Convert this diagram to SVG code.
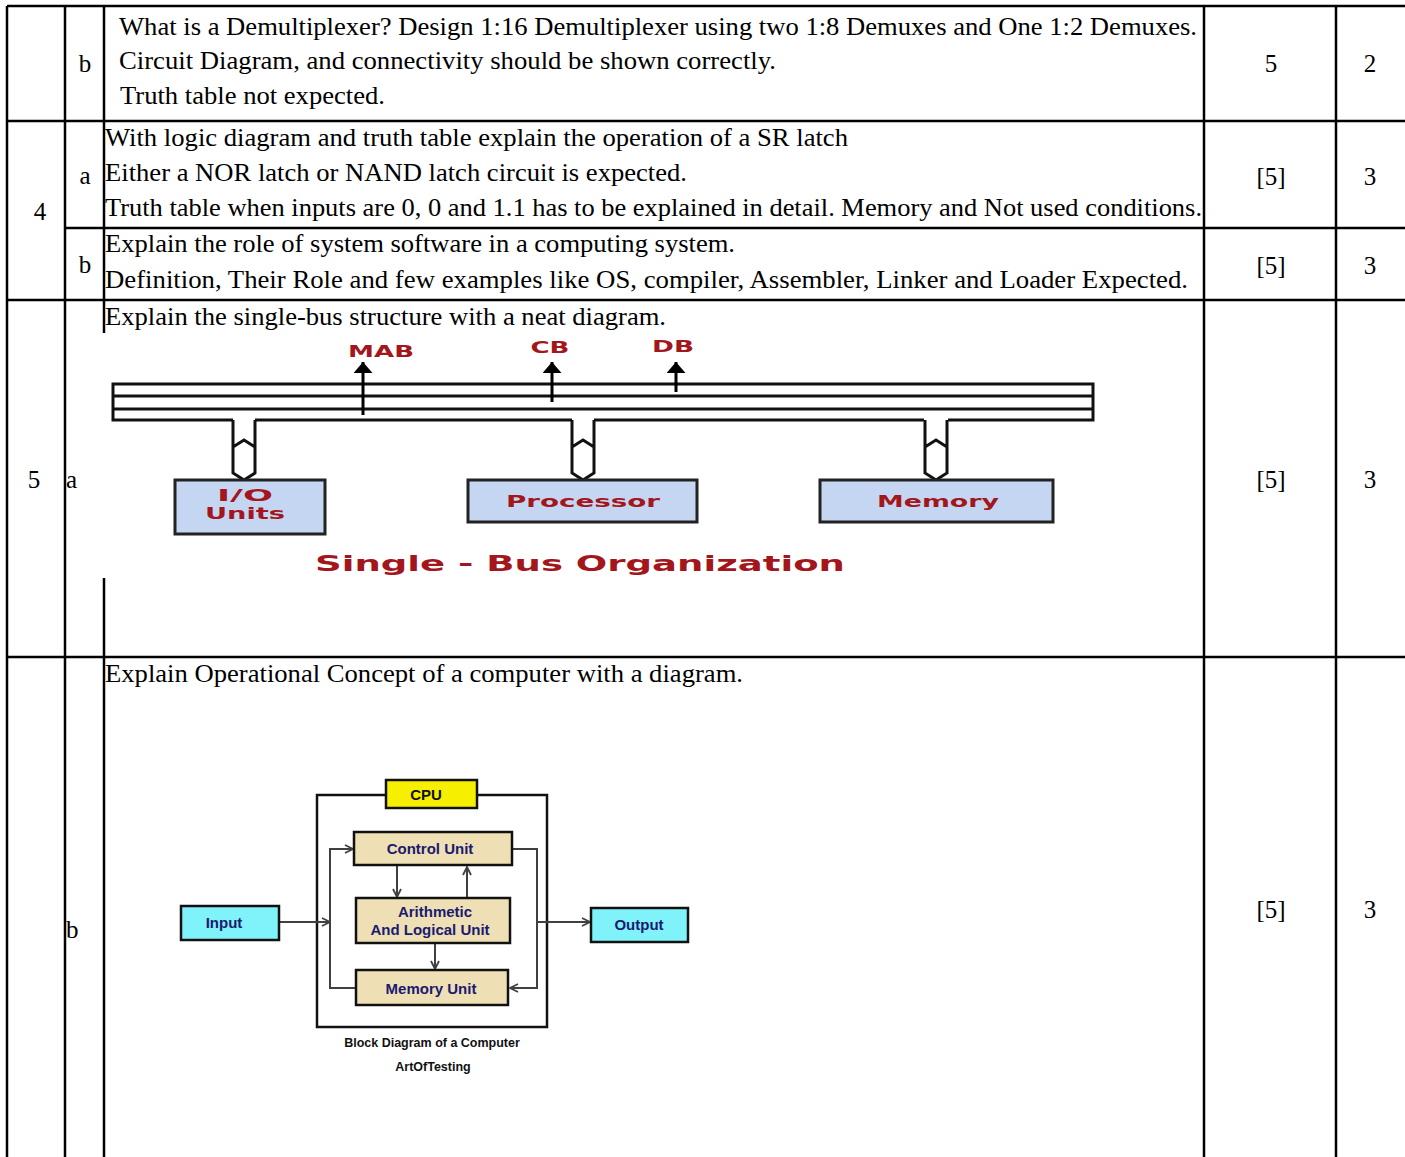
<svg xmlns="http://www.w3.org/2000/svg" width="1405" height="1157" viewBox="0 0 1405 1157">
<style>
.g{stroke:#000;stroke-width:2.5;fill:none}
.t{font-family:"Liberation Serif","Times New Roman",serif;font-size:25px;fill:#000}
.c{text-anchor:middle}
.bus{stroke:#111;stroke-width:3;fill:none}
.bl{font-family:"DejaVu Sans",Verdana,sans-serif;font-weight:bold;fill:#a3161c}
.ub{fill:#c5d6f3;stroke:#222;stroke-width:3}
.bd{font-family:"Liberation Sans",Arial,sans-serif;font-weight:bold}
.tan{fill:#eee0b4;stroke:#111;stroke-width:2.5}
.cy{fill:#7ff2fa;stroke:#111;stroke-width:2.5}
.ar{stroke:#404040;stroke-width:2;fill:none}
.nv{fill:#1a1a70;font-size:15px;text-anchor:middle}
</style>
<defs>
<marker id="oa" viewBox="0 0 10 10" refX="9" refY="5" markerWidth="10" markerHeight="10" markerUnits="userSpaceOnUse" orient="auto">
<path d="M1,1 L9,5 L1,9" fill="none" stroke="#404040" stroke-width="1.8"/>
</marker>
<marker id="fa" viewBox="0 0 10 10" refX="10" refY="5" markerWidth="11" markerHeight="19" markerUnits="userSpaceOnUse" orient="auto" preserveAspectRatio="none">
<path d="M0,0 L10,5 L0,10 Z" fill="#000"/>
</marker>
</defs>
<rect width="1405" height="1157" fill="#fff"/>
<g id="grid">
<line class="g" x1="7" y1="6" x2="1405" y2="6"/>
<line class="g" x1="7" y1="121" x2="1405" y2="121"/>
<line class="g" x1="65" y1="228" x2="1405" y2="228"/>
<line class="g" x1="7" y1="300" x2="1405" y2="300"/>
<line class="g" x1="7" y1="657" x2="1405" y2="657"/>
<line class="g" x1="7" y1="6" x2="7" y2="1157"/>
<line class="g" x1="65" y1="6" x2="65" y2="1157"/>
<line class="g" x1="104" y1="6" x2="104" y2="333"/>
<line class="g" x1="104" y1="578" x2="104" y2="1157"/>
<line class="g" x1="1204" y1="6" x2="1204" y2="1157"/>
<line class="g" x1="1336" y1="6" x2="1336" y2="1157"/>
</g>
<g id="cells">
<text class="t c" x="85" y="72">b</text>
<text class="t" x="119" y="35" textLength="1078" lengthAdjust="spacingAndGlyphs">What is a Demultiplexer? Design 1:16 Demultiplexer using two 1:8 Demuxes and One 1:2 Demuxes.</text>
<text class="t" x="119" y="69" textLength="657" lengthAdjust="spacingAndGlyphs">Circuit Diagram, and connectivity should be shown correctly.</text>
<text class="t" x="120" y="104" textLength="265" lengthAdjust="spacingAndGlyphs">Truth table not expected.</text>
<text class="t c" x="1271" y="72">5</text>
<text class="t c" x="1370" y="72">2</text>

<text class="t c" x="40" y="220">4</text>
<text class="t c" x="85" y="184">a</text>
<text class="t" x="105" y="146" textLength="743" lengthAdjust="spacingAndGlyphs">With logic diagram and truth table explain the operation of a SR latch</text>
<text class="t" x="105" y="181" textLength="582" lengthAdjust="spacingAndGlyphs">Either a NOR latch or NAND latch circuit is expected.</text>
<text class="t" x="105" y="216" textLength="1097" lengthAdjust="spacingAndGlyphs">Truth table when inputs are 0, 0 and 1.1 has to be explained in detail. Memory and Not used conditions.</text>
<text class="t c" x="1271" y="185">[5]</text>
<text class="t c" x="1370" y="185">3</text>

<text class="t c" x="85" y="273">b</text>
<text class="t" x="105" y="252" textLength="630" lengthAdjust="spacingAndGlyphs">Explain the role of system software in a computing system.</text>
<text class="t" x="105" y="288" textLength="1083" lengthAdjust="spacingAndGlyphs">Definition, Their Role and few examples like OS, compiler, Assembler, Linker and Loader Expected.</text>
<text class="t c" x="1271" y="274">[5]</text>
<text class="t c" x="1370" y="274">3</text>

<text class="t c" x="34" y="488">5</text>
<text class="t" x="66" y="488">a</text>
<text class="t" x="105" y="325" textLength="561" lengthAdjust="spacingAndGlyphs">Explain the single-bus structure with a neat diagram.</text>
<text class="t c" x="1271" y="488">[5]</text>
<text class="t c" x="1370" y="488">3</text>

<text class="t" x="66" y="938">b</text>
<text class="t" x="105" y="682" textLength="638" lengthAdjust="spacingAndGlyphs">Explain Operational Concept of a computer with a diagram.</text>
<text class="t c" x="1271" y="918">[5]</text>
<text class="t c" x="1370" y="918">3</text>
</g>

<g id="bus-diagram">
<g id="bus">
<path class="bus" d="M233,420 H113 V384 H1093 V420 H948 M924,420 H594 M572,420 H255"/>
<line class="bus" x1="113" y1="396" x2="1093" y2="396"/>
<line class="bus" x1="113" y1="409" x2="1093" y2="409"/>
</g>
<g id="bus-connectors">
<path class="bus" d="M233,420 V473 L244,480 L255,473 V420 M233,447 L244,440 L255,447"/>
<path class="bus" d="M572,420 V473 L583,480 L594,473 V420 M572,447 L583,440 L594,447"/>
<path class="bus" d="M925,420 V473 L936,480 L947,473 V420 M925,447 L936,440 L947,447"/>
<line x1="363" y1="415" x2="363" y2="362" stroke="#000" stroke-width="3" marker-end="url(#fa)"/>
<line x1="552" y1="402" x2="552" y2="362" stroke="#000" stroke-width="3" marker-end="url(#fa)"/>
<line x1="676" y1="392" x2="676" y2="362" stroke="#000" stroke-width="3" marker-end="url(#fa)"/>
</g>
<text class="bl" x="381" y="357" font-size="15" text-anchor="middle" textLength="66" lengthAdjust="spacingAndGlyphs">MAB</text>
<text class="bl" x="550" y="353" font-size="15" text-anchor="middle" textLength="39" lengthAdjust="spacingAndGlyphs">CB</text>
<text class="bl" x="673" y="352" font-size="15" text-anchor="middle" textLength="42" lengthAdjust="spacingAndGlyphs">DB</text>
<g id="io-units">
<rect class="ub" x="175" y="480" width="150" height="54"/>
<text class="bl" x="245" y="501" font-size="16" text-anchor="middle" textLength="56" lengthAdjust="spacingAndGlyphs">I/O</text>
<text class="bl" x="245" y="519" font-size="16" text-anchor="middle" textLength="80" lengthAdjust="spacingAndGlyphs">Units</text>
</g>
<g id="processor">
<rect class="ub" x="468" y="480" width="229" height="42"/>
<text class="bl" x="583" y="507" font-size="16" text-anchor="middle" textLength="154" lengthAdjust="spacingAndGlyphs">Processor</text>
</g>
<g id="memory">
<rect class="ub" x="820" y="480" width="233" height="42"/>
<text class="bl" x="938" y="507" font-size="16" text-anchor="middle" textLength="122" lengthAdjust="spacingAndGlyphs">Memory</text>
</g>
<text class="bl" x="580" y="571" font-size="22" text-anchor="middle" textLength="530" lengthAdjust="spacingAndGlyphs">Single - Bus Organization</text>
</g>

<g id="block-diagram">
<rect x="317" y="795" width="230" height="232" fill="none" stroke="#111" stroke-width="2.5"/>
<g id="connectors">
<line class="ar" x1="279" y1="922" x2="330" y2="922" marker-end="url(#oa)"/>
<path class="ar" d="M356,988 H330 V849 H353" marker-end="url(#oa)"/>
<path class="ar" d="M512,849 H537 V988 H510" marker-end="url(#oa)"/>
<line class="ar" x1="537" y1="922" x2="590" y2="922" marker-end="url(#oa)"/>
<line class="ar" x1="397" y1="866" x2="397" y2="897" marker-end="url(#oa)"/>
<line class="ar" x1="467" y1="898" x2="467" y2="867" marker-end="url(#oa)"/>
<line class="ar" x1="435" y1="943" x2="435" y2="969" marker-end="url(#oa)"/>
</g>
<g id="cpu">
<rect x="386" y="780" width="91" height="28" fill="#f7ef00" stroke="#111" stroke-width="2.5"/>
<text class="bd" x="426" y="800" font-size="15" text-anchor="middle" fill="#111">CPU</text>
</g>
<g id="control-unit">
<rect class="tan" x="354" y="832" width="158" height="33"/>
<text class="bd nv" x="430" y="854">Control Unit</text>
</g>
<g id="alu">
<rect class="tan" x="356" y="898" width="154" height="45"/>
<text class="bd nv" x="435" y="917">Arithmetic</text>
<text class="bd nv" x="430" y="935">And Logical Unit</text>
</g>
<g id="memory-unit">
<rect class="tan" x="356" y="970" width="152" height="35"/>
<text class="bd nv" x="431" y="994">Memory Unit</text>
</g>
<g id="input">
<rect class="cy" x="181" y="906" width="98" height="34"/>
<text class="bd nv" x="224" y="928">Input</text>
</g>
<g id="output">
<rect class="cy" x="591" y="908" width="97" height="34"/>
<text class="bd nv" x="639" y="930">Output</text>
</g>
<text class="bd" x="432" y="1047" font-size="12.5" text-anchor="middle" fill="#111">Block Diagram of a Computer</text>
<text class="bd" x="433" y="1071" font-size="12.5" text-anchor="middle" fill="#111">ArtOfTesting</text>
</g>
</svg>
